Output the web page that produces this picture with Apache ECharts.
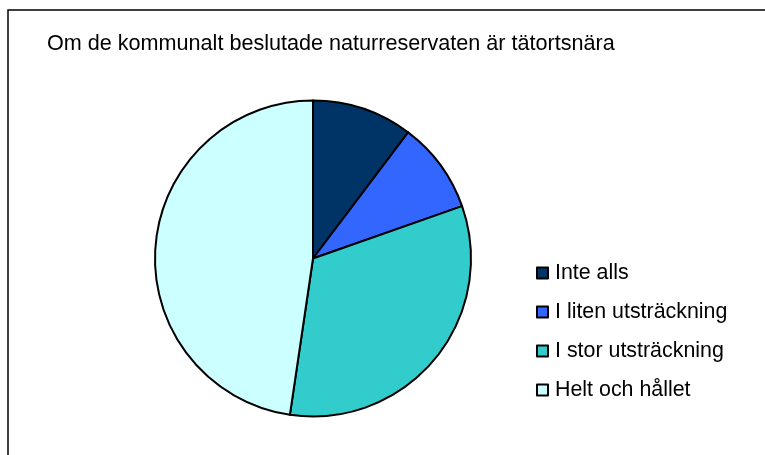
<!DOCTYPE html>
<html>
<head>
<meta charset="utf-8">
<script src="https://cdn.jsdelivr.net/npm/echarts@6/dist/echarts.min.js"></script>
<style>
  html, body { margin: 0; padding: 0; background: #fff; }
  #chart { width: 765px; height: 455px; }
</style>
</head>
<body>
<div id="chart"></div>
<script>
  const CATEGORIES = ["Inte alls", "I liten utsträckning", "I stor utsträckning", "Helt och hållet"];
  const VALUES = [11, 10, 35, 51];
  const COLORS = ["#003366", "#3366FF", "#33CCCC", "#CCFFFF"];

  var myChart = echarts.init(document.getElementById("chart"), null, { renderer: 'canvas' });

  var option = {
    animation: false,
    title: {
      text: "Om de kommunalt beslutade naturreservaten är tätortsnära",
      left: 42,
      top: 28,
      textStyle: {
        fontFamily: "Liberation Sans, Arial, sans-serif",
        fontSize: 21.6,
        fontWeight: "normal",
        color: "#000"
      }
    },
    graphic: [{
      type: 'rect',
      shape: { x: 8, y: 10, width: 800, height: 500 },
      style: { fill: null, stroke: '#000', lineWidth: 1.5 },
      silent: true
    }],
    legend: {
      orient: 'vertical',
      left: 531,
      top: 256,
      itemWidth: 11,
      itemHeight: 11,
      itemGap: 15,
      icon: 'rect',
      textStyle: {
        fontFamily: "Liberation Sans, Arial, sans-serif",
        fontSize: 21.4,
        lineHeight: 24,
        padding: [0, 0, 0, 2],
        color: "#000"
      },
      data: CATEGORIES
    },
    series: [{
      type: 'pie',
      center: [313, 258.5],
      radius: [0, 158],
      startAngle: 90,
      clockwise: true,
      label: { show: false },
      labelLine: { show: false },
      emphasis: { disabled: true },
      itemStyle: { borderColor: '#000', borderWidth: 2 },
      data: CATEGORIES.map((name, i) => ({
        name: name,
        value: VALUES[i],
        itemStyle: { color: COLORS[i] }
      }))
    }]
  };

  myChart.setOption(option);
</script>
</body>
</html>
